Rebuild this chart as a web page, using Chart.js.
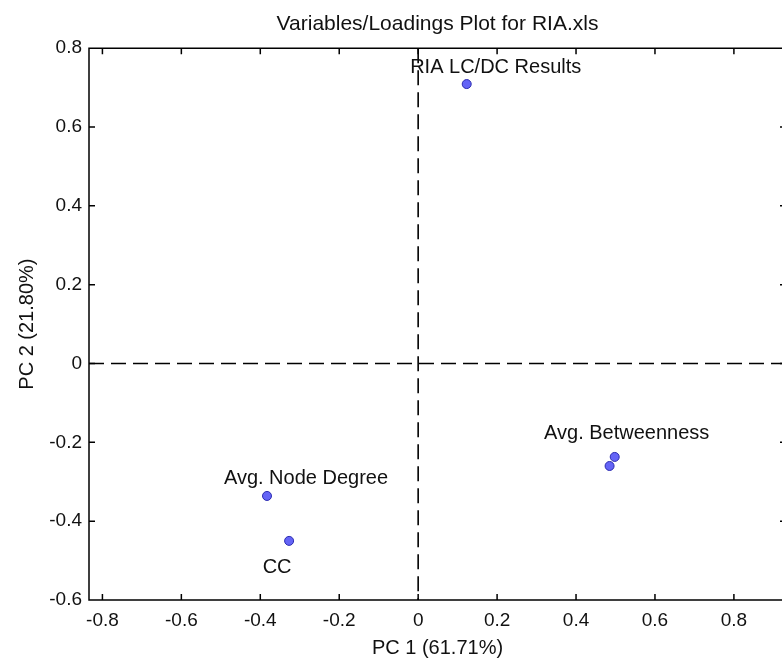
<!DOCTYPE html>
<html>
<head>
<meta charset="utf-8">
<title>Variables/Loadings Plot for RIA.xls</title>
<script src="https://cdn.jsdelivr.net/npm/chart.js@4.4.0/dist/chart.umd.min.js"></script>
<style>
  html, body { margin: 0; padding: 0; background: #fff; overflow: hidden; }
  #wrap { width: 800px; height: 660px; }
</style>
</head>
<body>
<div id="wrap"><canvas id="loadings"></canvas></div>
<script>
// loadings
const varNames = ['RIA LC/DC Results', 'Avg. Node Degree', 'CC', 'Avg. Betweenness', '']
const pc1 = [0.123, -0.383, -0.327, 0.498, 0.485]
const pc2 = [0.709, -0.336, -0.450, -0.237, -0.260]
const xTicks = [-0.8, -0.6, -0.4, -0.2, 0, 0.2, 0.4, 0.6, 0.8]
const yTicks = [-0.6, -0.4, -0.2, 0, 0.2, 0.4, 0.6, 0.8]

// where each name sits relative to its marker (px)
const labelShift = [[29, -17], [39, -17], [-12, 27], [12, -23], [0, 0]]

const FONT = "'Liberation Sans', Arial, sans-serif"
const TICK_LEN = 6

const loadingsPlot = {
  id: 'loadingsPlot',
  beforeDatasetsDraw(chart) {
    const {ctx, chartArea: a, scales: {x, y}} = chart
    const x0 = x.getPixelForValue(0)
    const y0 = y.getPixelForValue(0)
    ctx.save()
    ctx.strokeStyle = '#000'
    ctx.lineWidth = 1.6
    ctx.setLineDash([15, 7])
    ctx.beginPath()
    ctx.moveTo(x0, a.top)
    ctx.lineTo(x0, a.bottom)
    ctx.moveTo(a.left, y0)
    ctx.lineTo(a.right, y0)
    ctx.stroke()
    ctx.restore()
  },
  afterDatasetsDraw(chart) {
    const {ctx} = chart
    const meta = chart.getDatasetMeta(0)
    ctx.save()
    ctx.font = '20px ' + FONT
    ctx.fillStyle = '#111'
    ctx.textAlign = 'center'
    ctx.textBaseline = 'middle'
    meta.data.forEach((pt, i) => {
      if (!varNames[i]) return
      ctx.fillText(varNames[i], pt.x + labelShift[i][0], pt.y + labelShift[i][1])
    })
    ctx.restore()
  },
  afterDraw(chart) {
    const {ctx, chartArea: a, scales: {x, y}} = chart
    ctx.save()
    ctx.strokeStyle = '#000'
    ctx.lineWidth = 1.5
    ctx.beginPath()
    ctx.rect(a.left, a.top, a.right - a.left, a.bottom - a.top)
    xTicks.forEach(v => {
      const px = x.getPixelForValue(v)
      ctx.moveTo(px, a.bottom); ctx.lineTo(px, a.bottom - TICK_LEN)
      ctx.moveTo(px, a.top); ctx.lineTo(px, a.top + TICK_LEN)
    })
    yTicks.forEach(v => {
      const py = y.getPixelForValue(v)
      ctx.moveTo(a.left, py); ctx.lineTo(a.left + TICK_LEN, py)
      ctx.moveTo(a.right, py); ctx.lineTo(a.right - TICK_LEN, py)
    })
    ctx.stroke()
    ctx.restore()
  }
}

const fmt = v => String(Number(v.toFixed(1)))

const config = {
  type: 'scatter',
  data: {
    labels: varNames,
    datasets: [{
      label: 'Loadings',
      data: pc1.map((v, i) => ({x: v, y: pc2[i]})),
      pointRadius: 4.5,
      pointBackgroundColor: '#6464f6',
      pointBorderColor: '#2a2ab0',
      pointBorderWidth: 1
    }]
  },
  options: {
    responsive: true,
    maintainAspectRatio: false,
    animation: false,
    layout: { padding: { right: 14 } },
    plugins: {
      legend: { display: false },
      tooltip: { enabled: false },
      title: {
        display: true,
        fullSize: false,
        text: 'Variables/Loadings Plot for RIA.xls',
        color: '#111',
        font: { family: FONT, size: 21, weight: 'normal', lineHeight: 1.2 },
        padding: { top: 12, bottom: 11 }
      }
    },
    scales: {
      x: {
        type: 'linear',
        min: -0.834,
        max: 0.932,
        afterBuildTicks: s => { s.ticks = xTicks.map(v => ({value: v})) },
        afterFit: s => { s.height = 60 },
        grid: { display: false, drawTicks: false },
        border: { display: false },
        ticks: { color: '#111', padding: 9, font: { family: FONT, size: 19 }, callback: fmt },
        title: {
          display: true,
          text: 'PC 1 (61.71%)',
          color: '#111',
          font: { family: FONT, size: 20, lineHeight: 1.2 },
          padding: { top: 3, bottom: 0 }
        }
      },
      y: {
        type: 'linear',
        min: -0.6,
        max: 0.8,
        afterBuildTicks: s => { s.ticks = yTicks.map(v => ({value: v})) },
        afterFit: s => { s.width = 89 },
        grid: { display: false, drawTicks: false },
        border: { display: false },
        ticks: { color: '#111', padding: 7, font: { family: FONT, size: 19 }, callback: fmt },
        title: {
          display: true,
          text: 'PC 2 (21.80%)',
          color: '#111',
          font: { family: FONT, size: 20, lineHeight: 1.2 },
          padding: { top: 15, bottom: 0 }
        }
      }
    }
  },
  plugins: [loadingsPlot]
}

const loadingsChart = new Chart(document.getElementById('loadings'), config)
</script>
</body>
</html>
